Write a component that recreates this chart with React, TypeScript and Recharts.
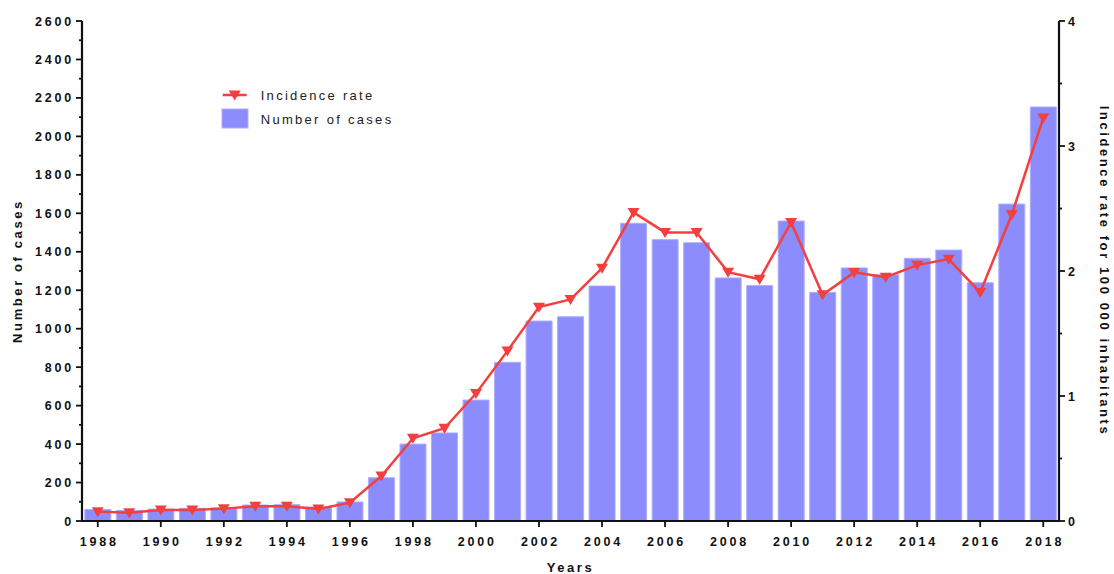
import React from 'react';
import { ComposedChart, Bar, Line, XAxis, YAxis, Legend, Label } from 'recharts';

const years = [
  '1988', '1989', '1990', '1991', '1992', '1993', '1994', '1995', '1996', '1997',
  '1998', '1999', '2000', '2001', '2002', '2003', '2004', '2005', '2006', '2007',
  '2008', '2009', '2010', '2011', '2012', '2013', '2014', '2015', '2016', '2017', '2018',
];

const cases = [
  60, 55, 62, 66, 69, 83, 85, 73, 99, 225,
  400, 458, 629, 825, 1040, 1062, 1222, 1548, 1463, 1447,
  1264, 1225, 1560, 1189, 1316, 1281, 1366, 1409, 1239, 1648, 2153,
];

const incidence = [
  0.075, 0.067, 0.088, 0.088, 0.099, 0.118, 0.118, 0.096, 0.147, 0.36,
  0.662, 0.742, 1.02, 1.361, 1.711, 1.773, 2.023, 2.469, 2.309, 2.309,
  1.991, 1.934, 2.389, 1.81, 1.989, 1.951, 2.047, 2.095, 1.829, 2.45, 3.224,
];

const casesTicks = [
  0, 100, 200, 300, 400, 500, 600, 700, 800, 900, 1000, 1100, 1200, 1300,
  1400, 1500, 1600, 1700, 1800, 1900, 2000, 2100, 2200, 2300, 2400, 2500, 2600,
];
const rateTicks = [0, 0.5, 1, 1.5, 2, 2.5, 3, 3.5, 4];

const data = years.map((year, i) => ({ year, cases: cases[i], rate: incidence[i] }));

const FONT = '"Liberation Sans", Arial, sans-serif';
const INK = '#111';
const RED = '#f43f3f';
const BLUE = '#8c8cfd';
const BLUE_EDGE = '#aeaeff';

const tickText = {
  fontFamily: FONT,
  fontSize: 12.5,
  fontWeight: 'bold' as const,
  letterSpacing: 2.8,
  fill: INK,
};

const titleStyle = {
  textAnchor: 'middle' as const,
  fontFamily: FONT,
  fontSize: 13,
  fontWeight: 'bold' as const,
  letterSpacing: 2.6,
  fill: INK,
};

const LeftTick = (props: any) => {
  const { x, y, payload } = props;
  const major = payload.value % 200 === 0;
  return (
    <g>
      <line x1={x} x2={x - (major ? 6 : 3)} y1={y} y2={y} stroke={INK} strokeWidth={1.8} />
      {major && (
        <text x={x - 8} y={y + 4.5} textAnchor="end" {...tickText}>
          {payload.value}
        </text>
      )}
    </g>
  );
};

const RightTick = (props: any) => {
  const { x, y, payload } = props;
  const major = Number.isInteger(payload.value);
  return (
    <g>
      <line x1={x} x2={x + (major ? 6 : 3)} y1={y} y2={y} stroke={INK} strokeWidth={1.8} />
      {major && (
        <text x={x + 9} y={y + 4.5} textAnchor="start" {...tickText}>
          {payload.value}
        </text>
      )}
    </g>
  );
};

const BottomTick = (props: any) => {
  const { x, y, payload } = props;
  if (Number(payload.value) % 2 !== 0) return <g />;
  return (
    <g>
      <line x1={x} x2={x} y1={y} y2={y + 6} stroke={INK} strokeWidth={1.8} />
      <text x={x + 1.4} y={y + 25} textAnchor="middle" {...tickText}>
        {payload.value}
      </text>
    </g>
  );
};

const TriangleDot = (props: any) => {
  const { cx, cy, index } = props;
  return (
    <path
      key={`dot-${index}`}
      d={`M${cx - 6},${cy - 4.5}L${cx + 6},${cy - 4.5}L${cx},${cy + 5.5}Z`}
      fill={RED}
    />
  );
};

const legendText = {
  fontFamily: FONT,
  fontSize: 13,
  letterSpacing: 2.3,
  fill: '#222',
};

const LegendContent = () => (
  <svg width={200} height={56}>
    <line x1={7.7} x2={31.7} y1={15} y2={15} stroke={RED} strokeWidth={2.5} />
    <path d="M13.7,10.5L25.7,10.5L19.7,20.5Z" fill={RED} />
    <text x={45.7} y={19.5} {...legendText}>
      Incidence rate
    </text>
    <rect x={7} y={29} width={26} height={19} fill={BLUE} stroke={BLUE_EDGE} />
    <text x={45.7} y={43.5} {...legendText}>
      Number of cases
    </text>
  </svg>
);

export default function App() {
  return (
    <div style={{ position: 'absolute', left: 0, top: 0, background: '#fff' }}>
      <ComposedChart
        width={1114}
        height={574}
        data={data}
        margin={{ top: 21, right: 0, bottom: 0, left: 0 }}
        barCategoryGap="9%"
      >
        <XAxis
          dataKey="year"
          interval={0}
          height={53}
          tickSize={0}
          tickMargin={0}
          tickLine={false}
          axisLine={{ stroke: INK, strokeWidth: 2.2 }}
          tick={<BottomTick />}
        >
          <Label value="Years" position="insideBottom" offset={2.5} style={titleStyle} />
        </XAxis>
        <YAxis
          yAxisId="left"
          orientation="left"
          width={82}
          domain={[0, 2600]}
          ticks={casesTicks}
          interval={0}
          tickSize={0}
          tickMargin={0}
          tickLine={false}
          axisLine={{ stroke: INK, strokeWidth: 2.2 }}
          tick={<LeftTick />}
        >
          <Label value="Number of cases" angle={-90} position="insideLeft" offset={17} style={titleStyle} />
        </YAxis>
        <YAxis
          yAxisId="right"
          orientation="right"
          width={55}
          domain={[0, 4]}
          ticks={rateTicks}
          interval={0}
          tickSize={0}
          tickMargin={0}
          tickLine={false}
          axisLine={{ stroke: INK, strokeWidth: 2.2 }}
          tick={<RightTick />}
        >
          <Label
            value="Incidence rate for 100 000 inhabitants"
            angle={90}
            position="insideRight"
            offset={9}
            style={titleStyle}
          />
        </YAxis>
        <Legend
          layout="vertical"
          verticalAlign="middle"
          align="center"
          content={LegendContent}
          wrapperStyle={{ left: 215, top: 80, width: 200, height: 56 }}
        />
        <Bar
          yAxisId="left"
          dataKey="cases"
          name="Number of cases"
          fill={BLUE}
          stroke={BLUE_EDGE}
          strokeWidth={1}
          isAnimationActive={false}
        />
        <Line
          yAxisId="right"
          dataKey="rate"
          name="Incidence rate"
          type="linear"
          stroke={RED}
          strokeWidth={2.5}
          dot={TriangleDot}
          activeDot={false}
          isAnimationActive={false}
        />
      </ComposedChart>
    </div>
  );
}
